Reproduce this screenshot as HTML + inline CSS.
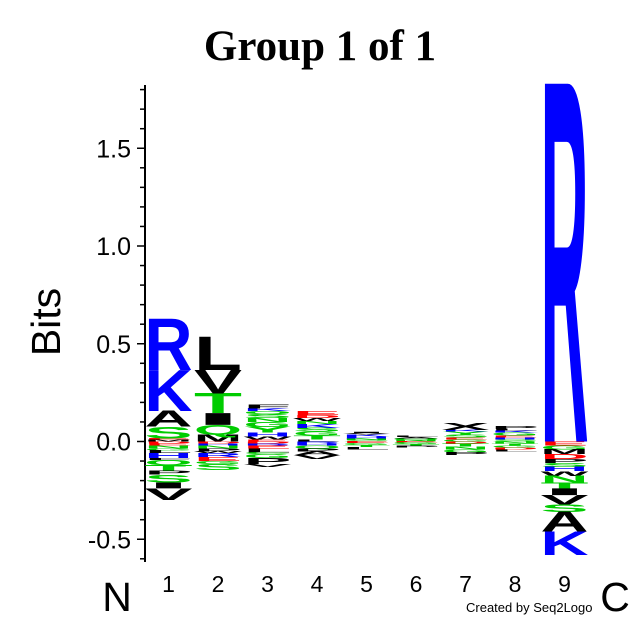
<!DOCTYPE html>
<html><head><meta charset="utf-8"><style>
html,body{margin:0;padding:0;background:#fff;}
svg{display:block;}
</style></head><body>
<svg id="logo" width="640" height="640" viewBox="0 0 640 640" xmlns="http://www.w3.org/2000/svg">
<text x="320" y="60" text-anchor="middle" font-family="Liberation Serif, serif" font-weight="bold" font-size="43">Group 1 of 1</text>
<text transform="translate(60,322) rotate(-90)" text-anchor="middle" font-family="Liberation Sans, sans-serif" font-size="41">Bits</text>
<text x="117" y="611" text-anchor="middle" font-family="Liberation Sans, sans-serif" font-size="41">N</text>
<text x="615" y="611" text-anchor="middle" font-family="Liberation Sans, sans-serif" font-size="41">C</text>
<text x="466" y="612" font-family="Liberation Sans, sans-serif" font-size="13">Created by Seq2Logo</text>
<g id="axis"></g>
<g id="marks"></g>
</svg>
<script>
const positions = ['1','2','3','4','5','6','7','8','9'];
const yTicks = [-0.5, 0.0, 0.5, 1.0, 1.5];
const yTickLabels = ['-0.5','0.0','0.5','1.0','1.5'];
const pos1Up = [['M',0.01],['E',0.006],['S',0.06],['A',0.08],['K',0.21],['R',0.26]];
const pos1Down = [['D',0.01],['E',0.01],['N',0.015],['G',0.01],['L',0.015],['H',0.025],['F',0.01],['Q',0.025],['T',0.03],['P',0.02],['S',0.04],['I',0.03],['V',0.06]];
const pos2Up = [['M',0.035],['Q',0.05],['I',0.06],['T',0.1],['V',0.12],['L',0.17]];
const pos2Down = [['D',0.01],['H',0.01],['N',0.015],['P',0.015],['W',0.01],['R',0.02],['E',0.02],['G',0.015],['S',0.03]];
const pos3Up = [['E',0.01],['W',0.015],['H',0.02],['Y',0.03],['G',0.025],['N',0.02],['S',0.02],['Q',0.015],['K',0.015],['F',0.02]];
const pos3Down = [['D',0.01],['R',0.01],['E',0.015],['L',0.02],['C',0.01],['G',0.02],['P',0.03],['V',0.015]];
const pos4Up = [['L',0.01],['T',0.02],['G',0.02],['S',0.02],['K',0.02],['N',0.015],['W',0.015],['D',0.015],['E',0.02]];
const pos4Down = [['R',0.01],['H',0.01],['Q',0.015],['P',0.015],['A',0.02],['V',0.02]];
const pos5Up = [['S',0.008],['N',0.008],['H',0.01],['K',0.01],['V',0.007],['I',0.007]];
const pos5Down = [['E',0.008],['G',0.01],['T',0.01],['L',0.012]];
const pos6Up = [['N',0.008],['Q',0.008],['A',0.007],['L',0.007]];
const pos6Down = [['E',0.006],['G',0.008],['T',0.008],['P',0.008]];
const pos7Up = [['G',0.01],['E',0.01],['S',0.015],['Y',0.015],['K',0.01],['X',0.035]];
const pos7Down = [['D',0.01],['T',0.015],['N',0.015],['G',0.015],['P',0.015]];
const pos8Up = [['S',0.01],['H',0.01],['E',0.01],['G',0.015],['K',0.01],['L',0.01],['P',0.015]];
const pos8Down = [['N',0.01],['T',0.01],['G',0.01],['D',0.01],['L',0.01]];
const pos9Up = [['R',1.83]];
const pos9Down = [['E',0.02],['G',0.02],['M',0.025],['D',0.025],['P',0.02],['S',0.02],['H',0.022],['W',0.024],['N',0.034],['T',0.03],['I',0.034],['V',0.048],['S',0.038],['A',0.1],['K',0.12]];
const upStacks = [pos1Up,pos2Up,pos3Up,pos4Up,pos5Up,pos6Up,pos7Up,pos8Up,pos9Up];
const downStacks = [pos1Down,pos2Down,pos3Down,pos4Down,pos5Down,pos6Down,pos7Down,pos8Down,pos9Down];

const NS='http://www.w3.org/2000/svg';
const Y0=441.5, PXB=195.5, X0=144, COLW=49.5, LW=48;
function yScale(v){return Y0 - v*PXB;}
function xScale(i){return X0 + i*COLW + 0.5;}
function colorOf(c){
  if('KRH'.includes(c)) return '#0000ff';
  if('DE'.includes(c)) return '#ff0000';
  if('STYCNQG'.includes(c)) return '#00cc00';
  return '#000000';
}
const axis=document.getElementById('axis');
const marks=document.getElementById('marks');
function mk(tag,attrs,parent){const e=document.createElementNS(NS,tag);for(const k in attrs)e.setAttribute(k,attrs[k]);parent.appendChild(e);return e;}
let ax=mk('line',{x1:145,y1:85,x2:145,y2:562,stroke:'#000','stroke-width':2},axis);


for(let k=-6;k<=18;k++){
  const v=k/10, major=(k%5===0);
  const t=mk('line',{x1:major?137:140,y1:yScale(v),x2:145,y2:yScale(v),stroke:'#000','stroke-width':1.5},axis);
  
  
}
yTicks.forEach((v,i)=>{
  const t=mk('text',{x:131,y:yScale(v)+9,'text-anchor':'end','font-family':'Liberation Sans, sans-serif','font-size':25},axis);
  t.textContent=yTickLabels[i];
  
  
});
positions.forEach((p,i)=>{
  const t=mk('text',{x:xScale(i)+LW/2,y:592,'text-anchor':'middle','font-family':'Liberation Sans, sans-serif','font-size':23},axis);
  t.textContent=p;
  
  
});
function drawLetter(ch,x,yTop,yBot){
  const h=yBot-yTop; if(h<=0.3) return;
  const sy=h/68.8;
  const t=mk('text',{transform:`translate(${x},${yBot}) scale(1,${sy})`,x:0,y:0,'font-family':'Liberation Sans, sans-serif','font-weight':'bold','font-size':100,textLength:LW,lengthAdjust:'spacingAndGlyphs',fill:colorOf(ch)},marks);
  t.textContent=ch;
  
  
}
upStacks.forEach((st,i)=>{
  let acc=0;
  st.forEach(([c,v])=>{drawLetter(c,xScale(i),yScale(acc+v),yScale(acc));acc+=v;});
});
downStacks.forEach((st,i)=>{
  let acc=0;
  st.forEach(([c,v])=>{drawLetter(c,xScale(i),yScale(-acc),yScale(-acc-v));acc+=v;});
});
</script>
</body></html>
